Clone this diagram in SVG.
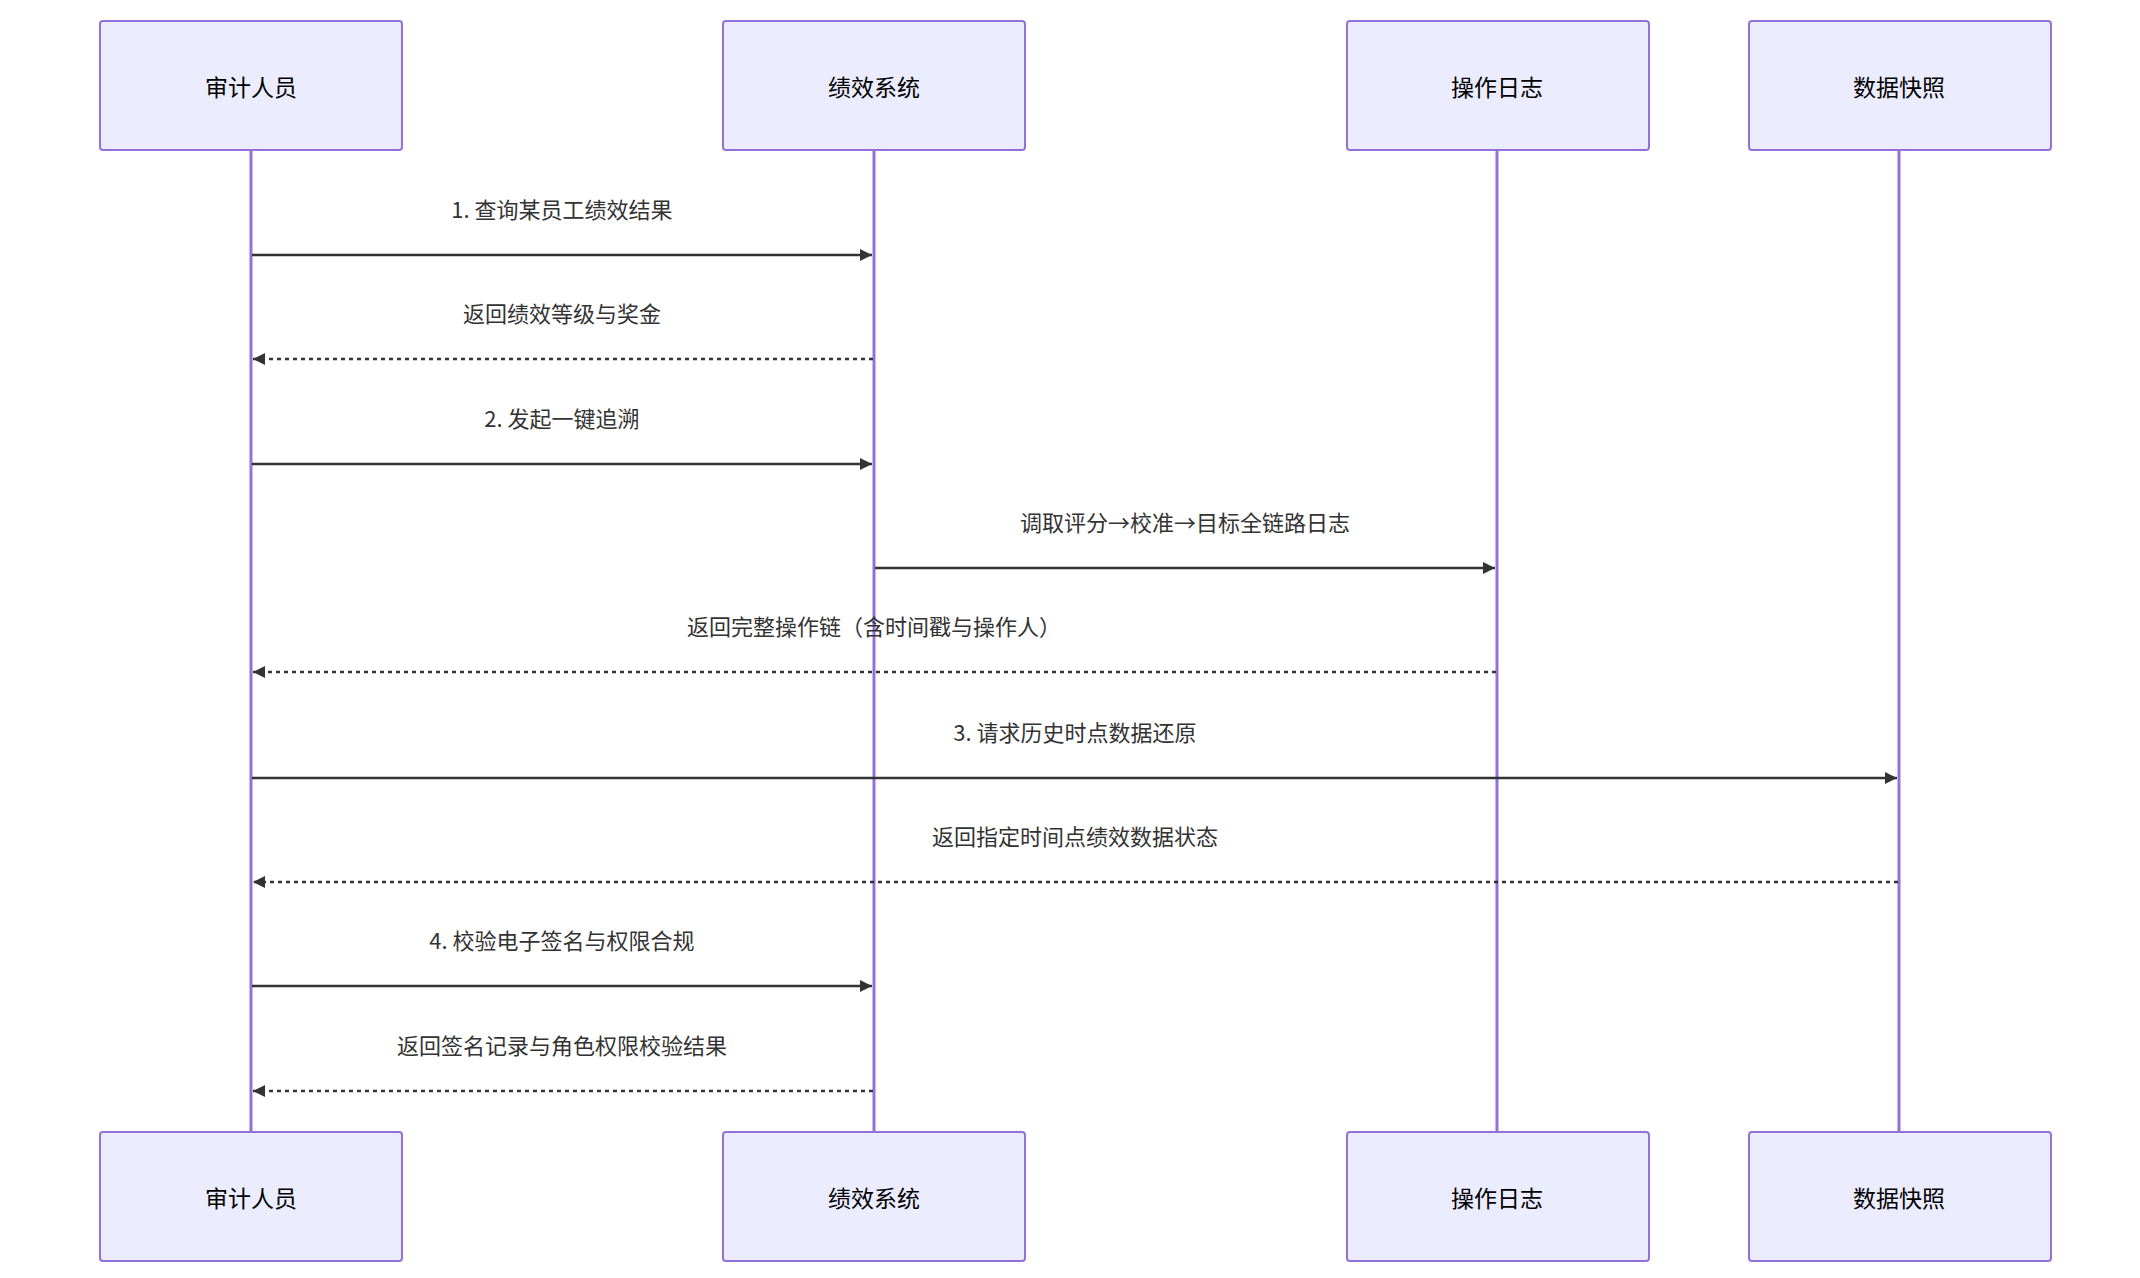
<svg xmlns="http://www.w3.org/2000/svg" width="2140" height="1278" viewBox="0 0 2140 1278">
<defs>
<marker id="ah" viewBox="0 0 12 12" refX="12" refY="6" markerWidth="12" markerHeight="12" markerUnits="userSpaceOnUse" orient="auto"><path d="M0,0 L12,6 L0,12 z" fill="#333"/></marker>
<style>
.box{fill:#ECECFF;stroke:#9370DB;stroke-width:2}
.life{stroke:#9370DB;stroke-width:3}
.t{font-family:"Noto Sans CJK SC","Liberation Sans",sans-serif;font-size:22px;fill:#333;text-anchor:middle}
.bt{font-family:"Noto Sans CJK SC","Liberation Sans",sans-serif;font-size:23px;fill:#000;text-anchor:middle;dominant-baseline:central}
.m{stroke:#333;stroke-width:2.5;fill:none;marker-end:url(#ah)}
.d{stroke-dasharray:4,4}
</style>
</defs>
<rect width="2140" height="1278" fill="#fff"/>
<g id="lifelines">
<line class="life" x1="251" y1="150" x2="251" y2="1132"/>
<line class="life" x1="874" y1="150" x2="874" y2="1132"/>
<line class="life" x1="1497" y1="150" x2="1497" y2="1132"/>
<line class="life" x1="1899" y1="150" x2="1899" y2="1132"/>
</g>
<g id="auditor"><rect class="box" x="100" y="21" width="302" height="129" rx="3"/><text class="bt" x="251" y="86">审计人员</text></g>
<g id="system"><rect class="box" x="723" y="21" width="302" height="129" rx="3"/><text class="bt" x="874" y="86">绩效系统</text></g>
<g id="log"><rect class="box" x="1347" y="21" width="302" height="129" rx="3"/><text class="bt" x="1497" y="86">操作日志</text></g>
<g id="snapshot"><rect class="box" x="1749" y="21" width="302" height="129" rx="3"/><text class="bt" x="1899" y="86">数据快照</text></g>
<g id="auditor-b"><rect class="box" x="100" y="1132" width="302" height="129" rx="3"/><text class="bt" x="251" y="1197">审计人员</text></g>
<g id="system-b"><rect class="box" x="723" y="1132" width="302" height="129" rx="3"/><text class="bt" x="874" y="1197">绩效系统</text></g>
<g id="log-b"><rect class="box" x="1347" y="1132" width="302" height="129" rx="3"/><text class="bt" x="1497" y="1197">操作日志</text></g>
<g id="snapshot-b"><rect class="box" x="1749" y="1132" width="302" height="129" rx="3"/><text class="bt" x="1899" y="1197">数据快照</text></g>
<g id="connectors">
<line class="m" x1="252" y1="255" x2="872" y2="255"/>
<text class="t" x="562" y="218">1. 查询某员工绩效结果</text>
<line class="m d" x1="873" y1="359" x2="253" y2="359"/>
<text class="t" x="562" y="322">返回绩效等级与奖金</text>
<line class="m" x1="252" y1="464" x2="872" y2="464"/>
<text class="t" x="562" y="427">2. 发起一键追溯</text>
<line class="m" x1="875" y1="568" x2="1495" y2="568"/>
<text class="t" x="1185" y="531">调取评分→校准→目标全链路日志</text>
<line class="m d" x1="1496" y1="672" x2="253" y2="672"/>
<text class="t" x="874" y="635">返回完整操作链（含时间戳与操作人）</text>
<line class="m" x1="252" y1="778" x2="1897" y2="778"/>
<text class="t" x="1075" y="741">3. 请求历史时点数据还原</text>
<line class="m d" x1="1898" y1="882" x2="253" y2="882"/>
<text class="t" x="1075" y="845">返回指定时间点绩效数据状态</text>
<line class="m" x1="252" y1="986" x2="872" y2="986"/>
<text class="t" x="562" y="949">4. 校验电子签名与权限合规</text>
<line class="m d" x1="873" y1="1091" x2="253" y2="1091"/>
<text class="t" x="562" y="1054">返回签名记录与角色权限校验结果</text>
</g>
</svg>
